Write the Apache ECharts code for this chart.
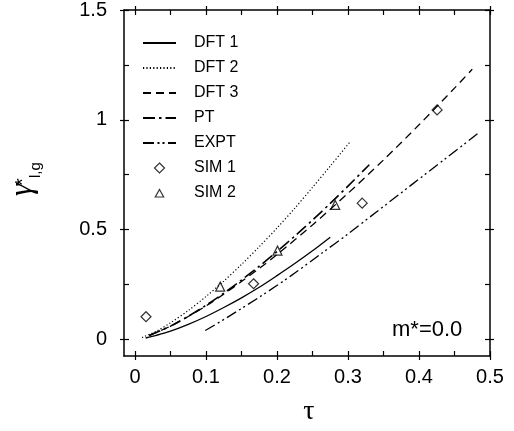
<!DOCTYPE html>
<html>
<head>
<meta charset="utf-8">
<script src="https://cdn.jsdelivr.net/npm/echarts@6/dist/echarts.min.js"></script>
<style>
html,body{margin:0;padding:0;background:#fff;}
#c{width:514px;height:431px;}
</style>
</head>
<body>
<div id="c"></div>
<script>
// ---- data ----
const dft1Tau   = [0.015, 0.03, 0.05, 0.075, 0.1, 0.125, 0.15, 0.175, 0.2, 0.225, 0.25, 0.275];
const dft1Gamma = [0.006, 0.018, 0.037, 0.068, 0.104, 0.145, 0.189, 0.237, 0.290, 0.345, 0.403, 0.465];

const dft2Tau   = [0.01, 0.03, 0.05, 0.075, 0.1, 0.125, 0.15, 0.175, 0.2, 0.225, 0.25, 0.275, 0.303];
const dft2Gamma = [0.008, 0.037, 0.075, 0.131, 0.195, 0.265, 0.341, 0.422, 0.507, 0.597, 0.692, 0.789, 0.900];

const dft3Tau   = [0.02, 0.05, 0.075, 0.1, 0.125, 0.15, 0.175, 0.2, 0.25, 0.3, 0.35, 0.4, 0.45, 0.475];
const dft3Gamma = [0.018, 0.060, 0.104, 0.152, 0.206, 0.263, 0.323, 0.386, 0.521, 0.665, 0.817, 0.977, 1.144, 1.230];

const ptTau   = [0.02, 0.05, 0.075, 0.1, 0.125, 0.15, 0.175, 0.2, 0.225, 0.25, 0.275, 0.3, 0.33];
const ptGamma = [0.017, 0.060, 0.105, 0.155, 0.210, 0.270, 0.333, 0.400, 0.470, 0.543, 0.619, 0.698, 0.795];

const exptTau   = [0.099, 0.13, 0.176, 0.22, 0.26, 0.30, 0.34, 0.388, 0.44, 0.484];
const exptGamma = [0.040, 0.100, 0.194, 0.290, 0.385, 0.480, 0.580, 0.700, 0.830, 0.940];

const sim1Tau   = [0.0155, 0.167, 0.32, 0.4255];
const sim1Gamma = [0.103, 0.253, 0.62, 1.045];

const sim2Tau   = [0.12, 0.2007, 0.282];
const sim2Gamma = [0.24, 0.404, 0.612];

const seriesNames = ['DFT 1', 'DFT 2', 'DFT 3', 'PT', 'EXPT', 'SIM 1', 'SIM 2'];

const xTickLabels = [0, 0.1, 0.2, 0.3, 0.4, 0.5];
const xMinorTicks = [0, 0.05, 0.1, 0.15, 0.2, 0.25, 0.3, 0.35, 0.4, 0.45, 0.5];
const yTickLabels = [0, 0.5, 1, 1.5];
const yMinorTicks = [0, 0.25, 0.5, 0.75, 1, 1.25, 1.5];

const annotation = 'm*=0.0';
const xName = 'τ';
const yNameParts = ['γ', '*', 'l,g'];

// ---- chart ----
const zip = (a, b) => a.map((v, i) => [v, b[i]]);
const X_MIN = -0.0155, X_MAX = 0.5, Y_MIN = -0.076, Y_MAX = 1.5;
const BLACK = '#000';

function xAxisDef(position, inside, ticks, withLabels, withLine) {
  return {
    type: 'value', position: position, min: X_MIN, max: X_MAX,
    axisLine: { show: withLine, onZero: false, lineStyle: { color: BLACK, width: 1.5 } },
    axisTick: { show: true, inside: inside, length: inside ? 5 : 4, customValues: ticks,
                lineStyle: { color: BLACK, width: 1.2 } },
    axisLabel: withLabels ? { show: true, customValues: xTickLabels, formatter: v => String(v),
                fontSize: 20, fontFamily: 'Liberation Sans', color: BLACK, margin: 11 } : { show: false },
    splitLine: { show: false }
  };
}
function yAxisDef(position, inside, ticks, withLabels, withLine) {
  return {
    type: 'value', position: position, min: Y_MIN, max: Y_MAX,
    axisLine: { show: withLine, onZero: false, lineStyle: { color: BLACK, width: 1.5 } },
    axisTick: { show: true, inside: inside, length: inside ? 5 : 4, customValues: ticks,
                lineStyle: { color: BLACK, width: 1.2 } },
    axisLabel: withLabels ? { show: true, customValues: yTickLabels, formatter: v => String(v),
                fontSize: 20, fontFamily: 'Liberation Sans', color: BLACK, margin: 17 } : { show: false },
    splitLine: { show: false }
  };
}

function lineSeries(name, tau, gamma, type, width) {
  return {
    name: name, type: 'line', xAxisIndex: 0, yAxisIndex: 0,
    data: zip(tau, gamma), symbol: 'none', smooth: 0.3, silent: true,
    lineStyle: { color: BLACK, width: width, type: type, cap: 'butt' },
    itemStyle: { color: BLACK }
  };
}
function scatterSeries(name, tau, gamma, symbol, size) {
  return {
    name: name, type: 'scatter', xAxisIndex: 0, yAxisIndex: 0,
    data: zip(tau, gamma), symbol: symbol, symbolSize: size, silent: true,
    itemStyle: { color: 'rgba(255,255,255,0)', borderColor: BLACK, borderWidth: 1.2 }
  };
}

// legend icons: invisible corner points keep the icon box 33x10 so the marker keeps its shape
const diamondIcon  = 'path://M0,0 M33,10 M16.5,0 L21.5,5 L16.5,10 L11.5,5 Z';
const triangleIcon = 'path://M0,0 M33,10 M16.5,1.5 L20.7,9 L12.3,9 Z';
const hiddenSymbol = { color: 'rgba(0,0,0,0)', borderWidth: 0, opacity: 0 };
const markerStyle  = { color: 'rgba(255,255,255,0)', borderColor: BLACK, borderWidth: 1.2 };
const legendData = seriesNames.map((n, i) => {
  if (i < 5) return { name: n, itemStyle: hiddenSymbol };
  return { name: n, icon: i === 5 ? diamondIcon : triangleIcon, itemStyle: markerStyle };
});

const chart = echarts.init(document.getElementById('c'), null, { renderer: 'canvas' });
chart.setOption({
  backgroundColor: '#fff',
  animation: false,
  grid: { left: 124, right: 24, top: 10, bottom: 75, outerBoundsMode: 'none' },
  xAxis: [
    xAxisDef('bottom', true, xMinorTicks, true, true),
    xAxisDef('bottom', false, xTickLabels, false, false),
    xAxisDef('top', true, xMinorTicks, false, true),
    xAxisDef('top', false, xTickLabels, false, false)
  ],
  yAxis: [
    yAxisDef('left', true, yMinorTicks, true, true),
    yAxisDef('left', false, yTickLabels, false, false),
    yAxisDef('right', true, yMinorTicks, false, true),
    yAxisDef('right', false, yTickLabels, false, false)
  ],
  legend: {
    data: legendData, orient: 'vertical', left: 142, top: 35, padding: 0,
    itemWidth: 33, itemHeight: 10, itemGap: 9, symbolKeepAspect: false,
    textStyle: { fontSize: 16, lineHeight: 16, fontFamily: 'Liberation Sans', color: BLACK, padding: [0, 0, 0, 13] },
    selectedMode: false
  },
  series: [
    lineSeries(seriesNames[0], dft1Tau, dft1Gamma, 'solid', 1.3),
    lineSeries(seriesNames[1], dft2Tau, dft2Gamma, [1.2, 2.2], 1.2),
    lineSeries(seriesNames[2], dft3Tau, dft3Gamma, [8, 5], 1.3),
    lineSeries(seriesNames[3], ptTau, ptGamma, [12, 4, 2.5, 4], 1.6),
    lineSeries(seriesNames[4], exptTau, exptGamma, [11, 3.5, 2, 3, 2, 3.5], 1.3),
    scatterSeries(seriesNames[5], sim1Tau, sim1Gamma, 'diamond', 10),
    scatterSeries(seriesNames[6], sim2Tau, sim2Gamma, 'triangle', 9)
  ],
  graphic: [
    { type: 'text', x: 392, y: 330, silent: true,
      style: { text: annotation, fontSize: 22, fontFamily: 'Liberation Sans', fill: BLACK, align: 'left', verticalAlign: 'middle' } },
    { type: 'text', x: 309, y: 412, silent: true,
      style: { text: xName, fontSize: 28, fontFamily: 'Liberation Serif', fill: BLACK, align: 'center', verticalAlign: 'middle' } },
    { type: 'group', x: 34, y: 196, rotation: Math.PI / 2, silent: true,
      children: [
        { type: 'text', x: 0, y: -11,
          style: { text: yNameParts[0], fontSize: 32, fontFamily: 'Liberation Serif', fontStyle: 'italic', fill: BLACK, align: 'left', verticalAlign: 'middle' } },
        { type: 'text', x: 10, y: -11,
          style: { text: yNameParts[1], fontSize: 20, fontFamily: 'Liberation Sans', fill: BLACK, align: 'left', verticalAlign: 'middle' } },
        { type: 'text', x: 18, y: 2,
          style: { text: yNameParts[2], fontSize: 15, fontFamily: 'Liberation Sans', fill: BLACK, align: 'left', verticalAlign: 'middle' } }
      ] }
  ]
});
</script>
</body>
</html>
